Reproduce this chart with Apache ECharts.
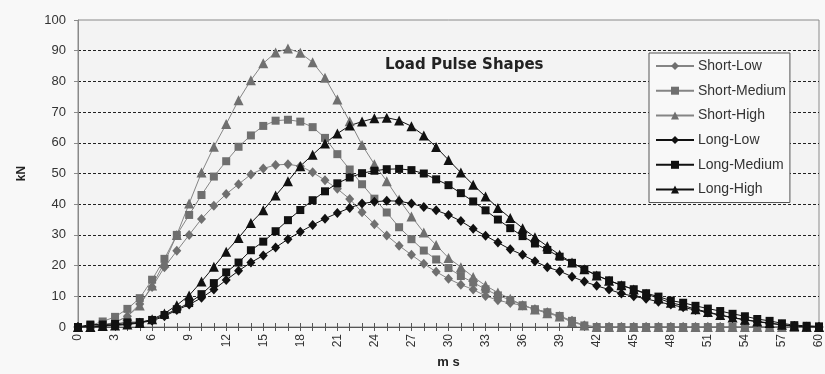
<!DOCTYPE html>
<html>
<head>
<meta charset="utf-8">
<script src="https://cdn.jsdelivr.net/npm/echarts@6/dist/echarts.min.js"></script>
<style>
  html, body { margin: 0; padding: 0; background: #f8f8f8; }
  #chart { width: 825px; height: 374px; }
</style>
</head>
<body>
<div id="chart"></div>
<script>
// Time axis, 0..60 ms in 1 ms steps
const timeMs = Array.from({ length: 61 }, (_, i) => String(i));

// Load pulse values in kN, one entry per millisecond
const shortLow = [0, 0.2, 0.6, 1.5, 3.5, 7.5, 13, 19.5, 24.8, 30, 35.2, 39.5, 43.3, 46.5, 49.7, 51.6, 52.8, 53, 52.4, 50.4,
  47.8, 45, 41.7, 37.4, 33.5, 29.8, 26.5, 23.5, 20.6, 18, 15.7, 13.8, 12.2, 10.1, 8.7, 7.8, 7, 5.8, 4.8, 3.5,
  2, 0.5, 0, 0, 0, 0, 0, 0, 0, 0, 0, 0, 0, 0, 0, 0, 0, 0, 0, 0, 0];
const shortMedium = [0, 0.5, 1.8, 3.3, 5.9, 9.4, 15.4, 22.2, 30, 36.5, 43, 49, 54, 58.7, 62.4, 65.5, 67.2, 67.5, 66.9, 65.1,
  61.6, 56.3, 51.3, 46.5, 41.8, 37.3, 32.5, 28.6, 24.9, 22, 19.2, 16.6, 14.5, 12.3, 10.3, 8.8, 7.1, 5.8, 4.8, 3.6,
  2, 0.5, 0, 0, 0, 0, 0, 0, 0, 0, 0, 0, 0, 0, 0, 0, 0, 0, 0, 0, 0];
const shortHigh = [0, 0, 0.5, 1.5, 3.5, 7, 13.5, 21, 30, 40.2, 50.3, 58.7, 66.1, 73.9, 80.4, 85.9, 89.4, 90.7, 89.3, 86.2,
  81.2, 74.1, 67, 59.3, 53, 47.5, 41.5, 36, 30.8, 26.7, 22.5, 19.5, 16.3, 13.5, 11.2, 9.2, 7.1, 5.7, 4.5, 3.4,
  1.6, 0.5, 0, 0, 0, 0, 0, 0, 0, 0, 0, 0, 0, 0, 0, 0, 0, 0, 0, 0, 0];
const longLow = [0, 0.2, 0.4, 0.7, 1, 1.4, 2, 3.5, 5.5, 7.3, 9.5, 12.2, 15.3, 18.3, 21, 23.3, 25.9, 28.6, 31, 33.2,
  35.3, 37.1, 38.8, 40.2, 40.8, 41.1, 41, 40.2, 39.1, 38, 36.5, 34.5, 32, 29.7, 27.5, 25.3, 23.5, 21.4, 19.5, 18.2,
  16.4, 14.8, 13.4, 12.2, 10.9, 10, 9.2, 8.2, 7.3, 6.4, 5.5, 4.7, 3.8, 3, 2.3, 1.7, 1.2, 0.7, 0.3, 0.1, 0];
const longMedium = [0, 0.8, 0.8, 1, 1.5, 1.6, 2.3, 3.9, 5.8, 7.8, 10.7, 14.3, 17.8, 21, 25, 27.8, 31.2, 34.8, 38.1, 41.3,
  44.2, 46.8, 48.7, 50.1, 50.9, 51.4, 51.5, 51.1, 50, 48.1, 46.2, 43.6, 40.9, 38, 35, 32.2, 29.6, 27.2, 25.1, 22.9,
  20.9, 18.8, 16.8, 15.2, 13.6, 12.3, 11, 9.9, 8.6, 7.9, 6.9, 6, 5.2, 4.3, 3.5, 2.6, 2, 1.2, 0.6, 0.4, 0.2];
const longHigh = [0, 0, 0.3, 0.5, 0.8, 1.3, 2.5, 4.4, 7.1, 10.3, 14.8, 19.6, 24.5, 29, 33.9, 38, 42.8, 47.5, 52.4, 56.1,
  59.8, 63, 65.6, 66.9, 68, 68.2, 67.3, 65.4, 62.4, 58.6, 54.4, 50.3, 46.3, 42.5, 38.8, 35.5, 32.2, 29.2, 26.3, 23.5,
  21, 18.8, 16.8, 15.1, 13.6, 12.2, 10.8, 9.3, 7.9, 7, 5.8, 4.9, 3.9, 3.1, 2.4, 1.8, 1.3, 0.7, 0.3, 0.1, 0];

const seriesNames = ['Short-Low', 'Short-Medium', 'Short-High', 'Long-Low', 'Long-Medium', 'Long-High'];

const FONT = '"Liberation Sans", Arial, sans-serif';
const GREY = '#6f6f6f';
const GREY_LINE = '#858585';
const BLACK = '#111111';

function pulse(name, data, symbol, size, markerColor, lineColor) {
  return {
    name: name,
    type: 'line',
    data: data,
    symbol: symbol,
    symbolSize: size,
    showAllSymbol: true,
    itemStyle: { color: markerColor },
    lineStyle: { color: lineColor, width: 1 },
    emphasis: { disabled: true },
    animation: false
  };
}

const chart = echarts.init(document.getElementById('chart'), null, { renderer: 'canvas' });

chart.setOption({
  backgroundColor: '#f8f8f8',
  animation: false,
  title: {
    text: 'Load Pulse Shapes',
    left: 380,
    top: 53,
    textStyle: { fontFamily: '"DejaVu Sans", sans-serif', fontSize: 15, fontWeight: 'bold', color: '#222' }
  },
  legend: {
    orient: 'vertical',
    left: 649,
    top: 53,
    padding: [6, 4, 6, 6],
    itemWidth: 38,
    itemHeight: 10,
    itemGap: 10.7,
    backgroundColor: '#f8f8f8',
    borderColor: '#555',
    borderWidth: 1,
    borderRadius: 0,
    data: seriesNames,
    textStyle: { fontFamily: FONT, fontSize: 14, color: '#333', lineHeight: 14, padding: [0, 0, 0, -1] }
  },
  grid: {
    left: 78,
    right: 3,
    top: 20,
    bottom: 39,
    show: true,
    backgroundColor: '#f3f3f3',
    borderColor: '#8a8a8a',
    borderWidth: 1
  },
  xAxis: [
    {
      type: 'category',
      data: timeMs,
      boundaryGap: false,
      name: 'm s',
      nameLocation: 'middle',
      nameGap: 29,
      nameTextStyle: { fontFamily: FONT, fontSize: 13, fontWeight: 'bold', color: '#222' },
      axisLine: { lineStyle: { color: '#555', width: 1 } },
      axisTick: { interval: 0, length: 4, lineStyle: { color: '#555' } },
      axisLabel: { interval: 2, rotate: 90, margin: 7, fontFamily: FONT, fontSize: 12, color: '#333' },
      splitLine: { show: false }
    },
    {
      // upper half of the crossing tick marks
      type: 'category',
      data: timeMs,
      boundaryGap: false,
      position: 'bottom',
      axisLine: { show: false },
      axisTick: { interval: 0, inside: true, length: 4, lineStyle: { color: '#555' } },
      axisLabel: { show: false },
      splitLine: { show: false }
    }
  ],
  yAxis: {
    type: 'value',
    min: 0,
    max: 100,
    interval: 10,
    name: 'kN',
    nameLocation: 'middle',
    nameGap: 50,
    nameTextStyle: { fontFamily: FONT, fontSize: 12, fontWeight: 'bold', color: '#222' },
    axisLine: { show: true, lineStyle: { color: '#8a8a8a' } },
    axisTick: { show: true, length: 4, lineStyle: { color: '#8a8a8a' } },
    axisLabel: { margin: 12, fontFamily: FONT, fontSize: 13, color: '#333' },
    splitLine: { showMinLine: false, showMaxLine: false, lineStyle: { color: '#222', width: 1, type: [3, 2] } }
  },
  series: [
    pulse('Short-Low', shortLow, 'diamond', [9, 10], GREY, GREY_LINE),
    pulse('Short-Medium', shortMedium, 'rect', 8, GREY, GREY_LINE),
    pulse('Short-High', shortHigh, 'triangle', 10, GREY, GREY_LINE),
    pulse('Long-Low', longLow, 'diamond', [9, 10], BLACK, BLACK),
    pulse('Long-Medium', longMedium, 'rect', 8, BLACK, BLACK),
    pulse('Long-High', longHigh, 'triangle', 10, BLACK, BLACK)
  ]
});
</script>
</body>
</html>
